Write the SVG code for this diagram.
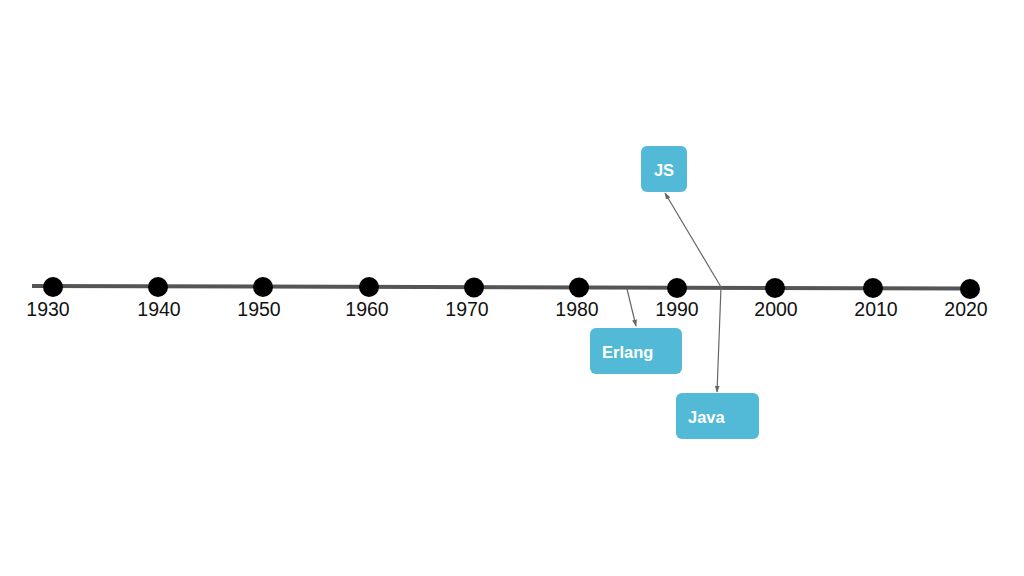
<svg xmlns="http://www.w3.org/2000/svg" width="1024" height="576" viewBox="0 0 1024 576">
<style>
.yr{font-family:"Liberation Sans",Arial,sans-serif;font-size:19.5px;fill:#111;text-anchor:middle}
.box{fill:#52BAD6}
.lbl{font-family:"Liberation Sans",Arial,sans-serif;font-size:16.5px;font-weight:bold;fill:#fff}
.dot{fill:#000}
.con{stroke:#666;stroke-width:1.2;fill:none;marker-end:url(#ah)}
</style>
<defs>
<marker id="ah" viewBox="0 0 10 10" refX="9" refY="5" markerWidth="7" markerHeight="7" orient="auto" markerUnits="userSpaceOnUse">
<path d="M0,1.5 L10,5 L0,8.5 z" fill="#666"/>
</marker>
</defs>
<rect width="1024" height="576" fill="#fff"/>
<g id="timeline">
<line x1="32" y1="286" x2="970" y2="288.5" stroke="#555" stroke-width="4"/>
<circle class="dot" cx="53" cy="287" r="10"/>
<circle class="dot" cx="158" cy="287" r="10"/>
<circle class="dot" cx="263" cy="287" r="10"/>
<circle class="dot" cx="369" cy="287" r="10"/>
<circle class="dot" cx="474" cy="287.5" r="10"/>
<circle class="dot" cx="579" cy="287.5" r="10"/>
<circle class="dot" cx="677" cy="288" r="10"/>
<circle class="dot" cx="775" cy="288" r="10"/>
<circle class="dot" cx="873" cy="288" r="10"/>
<circle class="dot" cx="970" cy="289" r="10"/>
<text class="yr" x="48" y="316">1930</text>
<text class="yr" x="159" y="316">1940</text>
<text class="yr" x="259" y="316">1950</text>
<text class="yr" x="367" y="316">1960</text>
<text class="yr" x="467" y="316">1970</text>
<text class="yr" x="577" y="316">1980</text>
<text class="yr" x="677" y="316">1990</text>
<text class="yr" x="776" y="316">2000</text>
<text class="yr" x="876" y="316">2010</text>
<text class="yr" x="966" y="316">2020</text>
</g>
<g id="connectors">
<line class="con" x1="627" y1="289" x2="636" y2="326"/>
<line class="con" x1="721" y1="287" x2="665" y2="193"/>
<line class="con" x1="721" y1="287" x2="717" y2="392"/>
</g>
<g id="node-js">
<rect class="box" x="641" y="146" width="46" height="46" rx="6"/>
<text class="lbl" x="664" y="176" text-anchor="middle">JS</text>
</g>
<g id="node-erlang">
<rect class="box" x="590" y="328" width="92" height="46" rx="6"/>
<text class="lbl" x="602" y="357.5">Erlang</text>
</g>
<g id="node-java">
<rect class="box" x="676" y="393" width="83" height="46" rx="6"/>
<text class="lbl" x="688" y="422.5">Java</text>
</g>
</svg>
